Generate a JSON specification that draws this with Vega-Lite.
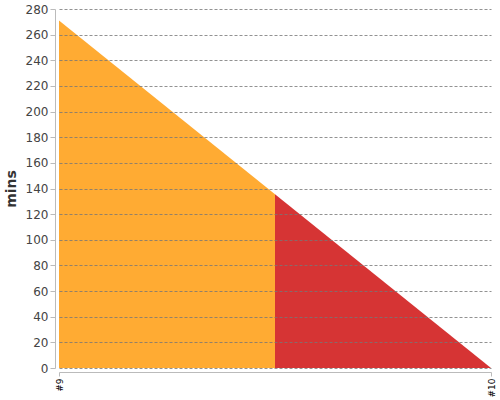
{
  "$schema": "https://vega.github.io/schema/vega-lite/v6.json",
  "autosize": "none",
  "width": 432,
  "height": 359,
  "padding": {"left": 59, "top": 9, "right": 9, "bottom": 32},
  "background": "white",
  "config": {"view": {"stroke": null}, "font": "DejaVu Sans"},
  "data": {
    "values": [
      {"sprint": 9, "mins": 271, "phase": "a"},
      {"sprint": 9.5, "mins": 135.5, "phase": "a"},
      {"sprint": 9.5, "mins": 135.5, "phase": "b"},
      {"sprint": 10, "mins": 0, "phase": "b"}
    ]
  },
  "mark": {"type": "area", "interpolate": "linear"},
  "encoding": {
    "x": {
      "field": "sprint",
      "type": "quantitative",
      "scale": {"domain": [9, 10], "nice": false, "zero": false},
      "axis": {
        "values": [9, 10],
        "labelExpr": "'#' + datum.value",
        "labelAngle": -90,
        "labelFontSize": 9,
        "labelColor": "#000",
        "labelPadding": 2,
        "tickSize": 4,
        "tickColor": "#bbb",
        "domainColor": "#bbb",
        "offset": 4,
        "grid": false,
        "title": null
      }
    },
    "y": {
      "field": "mins",
      "type": "quantitative",
      "stack": null,
      "scale": {"domain": [0, 280], "nice": false},
      "axis": {
        "values": [0,20,40,60,80,100,120,140,160,180,200,220,240,260,280],
        "labelFontSize": 12,
        "labelColor": "#444",
        "labelPadding": 2,
        "tickSize": 5,
        "tickColor": "#bbb",
        "domainColor": "#bbb",
        "offset": 4,
        "grid": true,
        "gridColor": "#777",
        "gridDash": [3, 2],
        "gridOpacity": 0.8,
        "zindex": 1,
        "title": "mins",
        "titleFontSize": 14,
        "titleFontWeight": "bold",
        "titleColor": "#333",
        "titlePadding": 7
      }
    },
    "color": {
      "field": "phase",
      "type": "nominal",
      "scale": {"domain": ["a", "b"], "range": ["#FFAB33", "#D63434"]},
      "legend": null
    }
  }
}
